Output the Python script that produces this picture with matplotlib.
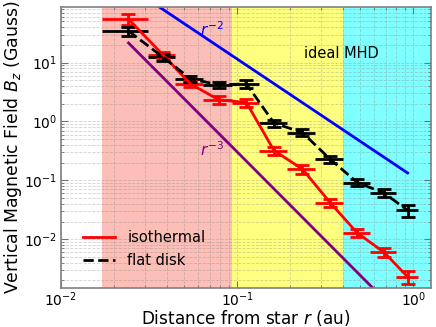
import matplotlib
matplotlib.use("Agg")
import matplotlib.pyplot as plt
from matplotlib.lines import Line2D
import numpy as np

# bin edges in r (au)
bin_edges = [0.017, 0.0313, 0.0445, 0.0641, 0.0933, 0.1324, 0.1914,
             0.2773, 0.3963, 0.5649, 0.7998, 1.057]

# isothermal model
bz_iso = [55, 13.5, 4.35, 2.33, 2.1, 0.32, 0.156, 0.042, 0.0128, 0.006, 0.0023]
bz_iso_err = [11, 1.8, 0.57, 0.35, 0.32, 0.048, 0.028, 0.0063, 0.0019, 0.0011, 0.00058]

# flat disk model
bz_flat = [34.4, 12.4, 5.3, 4.2, 4.35, 0.94, 0.65, 0.23, 0.092, 0.061, 0.031]
bz_flat_err = [5.8, 1.6, 0.64, 0.55, 0.65, 0.12, 0.091, 0.032, 0.013, 0.009, 0.0074]

# power law reference lines  B = A r^n
norm_r2 = 0.115
norm_r3 = 3.04e-4

# shaded regions
regions = [(0.017, 0.0933, 'salmon'), (0.0933, 0.3963, 'yellow'), (0.3963, 1.26, 'cyan')]

edges = np.array(bin_edges)
r = 0.5 * (edges[:-1] + edges[1:])
rerr = 0.5 * (edges[1:] - edges[:-1])

fig = plt.figure(figsize=(4.36, 3.27), dpi=100)
ax = fig.add_axes([0.14, 0.12, 0.8485, 0.8586])

for lo, hi, c in regions:
	ax.axvspan(lo, hi, color=c, alpha=0.5, lw=0)

ax.plot(r, norm_r2 * r**-2, color='blue', lw=2)
ax.plot(r, norm_r3 * r**-3, color='purple', lw=2)

# horizontal bars (bin widths), no caps
ax.errorbar(r, bz_iso, xerr=rerr, fmt='none', ecolor='red', elinewidth=2, capsize=0)
ax.errorbar(r, bz_flat, xerr=rerr, fmt='none', ecolor='black', elinewidth=2, capsize=0)

# vertical error bars with caps
ax.errorbar(r, bz_iso, yerr=bz_iso_err, color='red', lw=2,
	elinewidth=2, capsize=5, capthick=2)
ax.errorbar(r, bz_flat, yerr=bz_flat_err, color='black', lw=2, ls='--',
	elinewidth=2, capsize=5, capthick=2)

ax.text(0.0617, 35.8, r'$r^{-2}$', color='blue', fontsize=11, va='center')
ax.text(0.0617, 0.33, r'$r^{-3}$', color='purple', fontsize=11, va='center')
ax.text(0.241, 14.4, 'ideal MHD', fontsize=10.5, va='center')

ax.set_xscale('log')
ax.set_yscale('log')
ax.set_xlim(0.01, 1.26)
ax.set_ylim(1.5e-3, 88)

ax.grid(True, which='both', ls='--', color='gray', alpha=0.35, lw=0.6)
ax.tick_params(which='both', direction='in', top=True, right=True, labelsize=10, color='0.45', pad=3)
ax.tick_params(axis='x', pad=2)
ax.tick_params(which='major', length=5)
ax.tick_params(which='minor', length=2.5)
for s in ax.spines.values():
	s.set_color('0.5')
	s.set_linewidth(1.2)

ax.set_xlabel(r'Distance from star $r$ (au)', fontsize=12.2, labelpad=-1)
ax.set_ylabel(r'Vertical Magnetic Field $B_z$ (Gauss)', fontsize=12.4, labelpad=0)

handles = [Line2D([], [], color='red', lw=2),
	Line2D([], [], color='black', lw=2, ls='--')]
ax.legend(handles, ['isothermal', 'flat disk'], loc='lower left', frameon=False,
	fontsize=10.5, handlelength=2.2, bbox_to_anchor=(0.025, 0.025))

fig.savefig('out.png', dpi=100)
